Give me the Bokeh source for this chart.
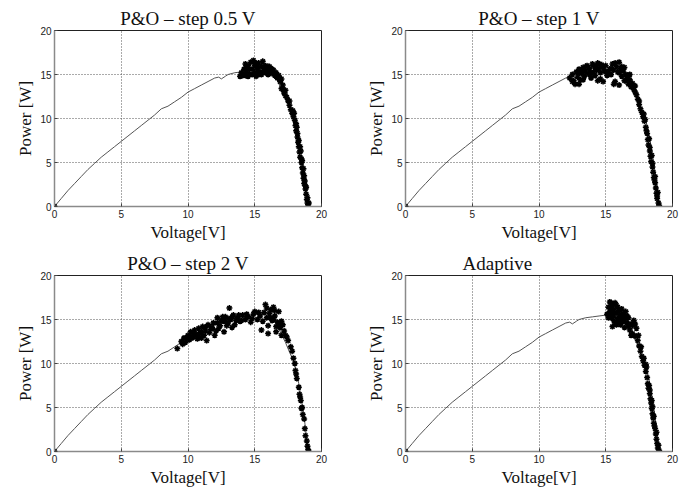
from bokeh.plotting import figure
from bokeh.layouts import column, row
from bokeh.models import Range1d, FixedTicker
from bokeh.embed import file_html
from bokeh.resources import INLINE

# ---- data ----
curve_v = [0, 0.5, 1, 1.5, 2, 2.5, 3, 3.5, 4, 4.5, 5, 5.5, 6, 6.5, 7, 7.5, 8, 8.5, 9, 9.5,
           10, 10.5, 11, 11.5, 12, 12.3, 12.5, 12.8, 13, 13.5, 14, 14.5, 15, 15.5, 16, 16.5,
           17, 17.3, 17.6, 17.9, 18.1, 18.3, 18.5, 18.7, 18.85, 19.0]
curve_p = [0, 0.9, 1.8, 2.6, 3.4, 4.2, 4.9, 5.6, 6.2, 6.8, 7.4, 8.0, 8.6, 9.2, 9.8, 10.4, 11.1, 11.4, 11.9, 12.4,
           13.0, 13.4, 13.8, 14.2, 14.6, 14.7, 14.5, 14.8, 15.0, 15.2, 15.3, 15.4, 15.5, 15.7, 15.6, 15.0,
           13.3, 12.4, 11.3, 10.3, 9.2, 7.7, 5.9, 3.9, 2.0, 0]

po05_v = [13.9, 14.0, 14.1, 14.2, 14.3, 14.4, 14.5, 14.5, 14.6, 14.7, 14.8, 14.9, 15.0, 15.0, 15.1, 15.2, 15.3,
          15.4, 15.5, 15.5, 15.6, 15.7, 15.8, 15.9, 16.0, 16.0, 16.1, 16.2, 16.3, 16.4, 16.5, 16.6, 16.7, 16.8,
          16.9, 17.0, 17.0, 17.1, 17.2, 17.3, 17.4, 17.5, 17.6, 17.7, 17.8, 17.9, 18.0, 18.05, 18.1, 18.2, 18.25,
          18.3, 18.35, 18.4, 18.5, 18.55, 18.6, 18.65, 18.7, 18.8, 18.85, 18.9, 19.0, 18.95, 18.75, 18.5, 18.3,
          18.15, 17.95, 18.45, 18.65, 18.8, 19.05, 14.6, 15.2, 15.8, 14.3, 14.9,
          14.2, 14.4, 14.8, 15.1, 15.3, 15.7, 16.1, 16.3, 16.6, 17.1, 17.3, 17.6, 17.85, 18.1, 18.2, 18.4,
          18.55, 18.7, 18.85, 18.95, 0]
po05_p = [14.8, 15.2, 14.9, 15.6, 16.2, 15.4, 16.0, 14.8, 15.0, 16.4, 15.6, 16.6, 15.2, 16.0, 14.8, 15.8, 16.3,
          15.3, 15.9, 15.0, 16.5, 15.4, 16.0, 15.6, 15.9, 15.0, 15.3, 15.7, 15.1, 15.5, 14.9, 15.2, 14.6, 14.9,
          14.2, 14.5, 13.4, 13.8, 12.9, 13.2, 12.4, 12.0, 11.5, 11.0, 10.6, 10.2, 9.8, 9.2, 8.6, 7.9, 7.3,
          6.8, 6.2, 5.6, 5.0, 4.4, 3.8, 3.2, 2.6, 2.0, 1.4, 0.8, 0.2, 1.0, 2.9, 5.4, 7.5,
          9.0, 10.6, 6.3, 4.3, 2.3, 0.4, 15.6, 15.5, 15.2, 14.9, 16.4,
          15.0, 15.9, 15.0, 16.3, 15.0, 15.9, 15.9, 15.6, 14.8, 13.3, 12.6, 12.0, 10.9, 9.4, 8.3, 6.8,
          5.2, 3.5, 2.2, 0.4, 0]

po1_v = [12.3, 12.5, 12.6, 12.7, 12.8, 12.9, 13.0, 13.0, 13.1, 13.2, 13.3, 13.4, 13.5, 13.6, 13.7, 13.8, 13.9,
         14.0, 14.1, 14.2, 14.3, 14.4, 14.4, 14.5, 14.6, 14.6, 14.7, 14.8, 14.8, 14.9, 15.0, 15.1, 15.2, 15.3,
         15.4, 15.5, 15.6, 15.6, 15.7, 15.8, 15.9, 16.0, 16.0, 16.1, 16.2, 16.3, 16.4, 16.5, 16.6, 16.7, 16.8,
         17.0, 17.1, 17.2, 17.3, 17.4, 17.5, 17.6, 17.7, 17.8, 17.9, 18.0, 18.1, 18.15, 18.2, 18.3, 18.35, 18.4,
         18.5, 18.55, 18.6, 18.7, 18.75, 18.8, 18.85, 18.95, 19.0, 18.7, 18.45, 18.25, 17.95, 18.9,
         13.2, 13.9, 14.3, 16.4, 16.8,
         12.5, 12.9, 13.3, 13.5, 13.8, 14.1, 14.2, 14.5, 15.0, 15.4, 15.7, 16.0, 16.2, 16.5, 16.7, 16.9,
         17.2, 17.5, 17.85, 18.05, 18.3, 18.5, 18.65, 18.85, 0]
po1_p = [14.6, 15.0, 14.3, 13.9, 15.3, 14.7, 15.6, 13.9, 14.4, 15.1, 15.8, 14.8, 15.4, 16.0, 15.1, 15.7, 14.6,
         16.2, 15.3, 15.9, 15.5, 16.3, 14.3, 15.7, 15.2, 14.5, 16.1, 15.8, 14.2, 15.4, 16.0, 14.9, 15.2, 15.6,
         15.0, 16.2, 15.5, 13.9, 14.2, 15.9, 15.3, 16.4, 13.8, 15.7, 14.8, 15.4, 14.3, 15.0, 14.6, 13.9, 14.4,
         14.0, 13.3, 13.7, 12.7, 12.2, 11.6, 11.1, 10.7, 10.2, 9.7, 9.0, 8.3, 7.6, 7.0, 6.3, 5.7, 5.1,
         4.5, 3.9, 3.3, 2.7, 2.1, 1.5, 0.9, 0.4, 0.1, 3.4, 5.8, 7.7, 9.9, 1.6,
         15.3, 15.2, 15.8, 15.8, 15.0,
         14.2, 15.2, 14.4, 15.9, 15.0, 16.0, 14.9, 16.2, 15.3, 15.7, 16.3, 15.2, 15.9, 14.3, 14.9, 13.6,
         13.0, 12.0, 10.5, 8.6, 6.7, 4.9, 3.0, 1.2, 0]

po2_v = [9.2, 9.5, 9.6, 9.7, 9.8, 10.0, 10.1, 10.2, 10.3, 10.4, 10.5, 10.6, 10.7, 10.8, 10.9, 11.0, 11.1,
         11.2, 11.3, 11.4, 11.5, 11.6, 11.7, 11.9, 12.0, 12.1, 12.2, 12.3, 12.4, 12.5, 12.6, 12.7, 12.8, 12.9,
         13.0, 13.1, 13.2, 13.3, 13.4, 13.5, 13.6, 13.7, 13.9, 14.1, 14.3, 14.5, 14.7, 14.9, 15.0, 15.2, 15.4,
         15.5, 15.6, 15.7, 15.8, 15.9, 16.0, 16.0, 16.1, 16.2, 16.3, 16.4, 16.5, 16.6, 16.7, 16.8, 16.9, 17.0,
         17.1, 17.2, 17.3, 17.5, 17.7, 17.8, 17.9, 18.0, 18.05, 18.15, 18.3, 18.35, 18.45, 18.5, 18.6, 18.7,
         18.75, 18.8, 18.95, 19.0, 19.05, 10.4, 11.0, 11.8, 13.0, 16.4, 16.6,
         9.9, 10.3, 10.8, 11.3, 11.8, 12.2, 12.7, 13.3, 13.8, 14.0, 14.4, 14.8, 15.3, 15.9, 16.2, 16.5,
         16.8, 17.0, 17.4, 18.1, 18.4, 18.55, 18.9, 0]
po2_p = [11.7, 12.5, 12.2, 12.9, 12.4, 13.2, 12.7, 13.6, 12.9, 13.0, 13.8, 13.3, 12.8, 14.0, 13.5, 12.9, 14.2,
         13.2, 13.7, 12.6, 14.4, 13.5, 13.9, 14.6, 13.2, 13.7, 15.2, 14.0, 14.3, 14.9, 15.3, 13.6, 15.3, 14.3,
         14.6, 16.3, 15.0, 14.1, 15.5, 14.4, 14.9, 15.2, 14.8, 15.5, 15.0, 15.3, 14.7, 15.6, 15.9, 15.0, 15.4,
         13.8, 14.8, 15.8, 16.7, 15.2, 14.3, 13.4, 15.7, 16.1, 14.9, 16.4, 15.4, 13.6, 14.7, 15.9, 14.1, 13.2,
         14.4, 13.7, 13.2, 12.6, 11.9, 11.4, 10.6, 10.0, 9.2, 8.3, 7.3, 6.5, 5.8, 4.9, 4.2, 3.7,
         2.6, 1.8, 0.6, 0.2, 0.0, 13.4, 13.6, 14.1, 15.1, 15.0, 14.2,
         12.9, 13.5, 13.1, 14.1, 14.0, 14.6, 14.8, 15.3, 15.5, 14.9, 15.6, 15.1, 15.8, 16.3, 15.2, 16.0,
         14.4, 14.8, 13.0, 8.8, 6.2, 5.0, 1.2, 0]

adp_v = [15.1, 15.2, 15.3, 15.3, 15.4, 15.4, 15.5, 15.5, 15.6, 15.6, 15.7, 15.7, 15.8, 15.9, 15.9, 16.0, 16.0,
         16.1, 16.1, 16.2, 16.3, 16.3, 16.4, 16.4, 16.5, 16.6, 16.6, 16.7, 16.8, 16.9, 16.9, 17.0, 17.1, 17.2,
         17.3, 17.4, 17.5, 17.6, 17.7, 17.8, 17.9, 18.0, 18.05, 18.1, 18.15, 18.2, 18.25, 18.3, 18.35, 18.4,
         18.45, 18.5, 18.5, 18.55, 18.6, 18.65, 18.7, 18.75, 18.8, 18.85, 18.9, 19.0,
         15.6, 15.9, 16.2, 15.4, 15.8,
         15.2, 15.4, 15.5, 15.8, 16.0, 16.2, 16.5, 16.7, 17.0, 17.2, 17.45, 17.65, 17.85, 18.0, 18.3, 18.45,
         18.6, 18.8, 18.95, 0]
adp_p = [15.6, 16.4, 15.9, 17.0, 15.2, 16.9, 16.6, 14.2, 16.1, 15.4, 16.9, 14.5, 15.8, 14.9, 16.4, 15.5, 16.0,
         14.4, 15.2, 16.2, 15.7, 14.8, 15.3, 14.1, 15.9, 14.6, 15.4, 15.2, 13.8, 14.5, 13.2, 13.4, 14.9, 13.1,
         14.0, 12.6, 12.0, 11.4, 10.8, 10.3, 9.8, 9.1, 9.6, 8.4, 7.7, 7.2, 7.5, 6.6, 6.0, 5.5,
         4.9, 4.3, 5.1, 3.8, 3.2, 2.9, 2.6, 2.0, 1.4, 0.9, 0.4, 0.1,
         14.9, 15.1, 15.0, 15.6, 14.4,
         15.2, 16.3, 15.7, 16.6, 14.8, 15.5, 15.1, 14.2, 14.3, 14.5, 13.2, 11.9, 10.6, 9.9, 7.0, 5.8,
         4.0, 2.2, 0.7, 0]

titles = ["P&O \u2013 step 0.5 V", "P&O \u2013 step 1 V", "P&O \u2013 step 2 V", "Adaptive"]
ticks = [0, 5, 10, 15, 20]
x_label = "Voltage[V]"
y_label = "Power [W]"


def make_panel(title, sv, sp, width, height, left, top, right, bottom,
               title_align="center", title_offset=0):
    p = figure(width=width, height=height, output_backend="svg", toolbar_location=None,
               x_range=Range1d(0, 20), y_range=Range1d(0, 20),
               min_border_left=left, min_border_top=top, min_border_right=right, min_border_bottom=bottom)
    p.title.text = title
    p.title.text_font = "Liberation Serif"
    p.title.text_font_size = "19px"
    p.title.text_font_style = "normal"
    p.title.align = title_align
    p.title.offset = title_offset
    p.title.standoff = 4
    p.title.text_color = "#111111"
    p.background_fill_color = "white"
    p.border_fill_color = "white"
    p.outline_line_color = "#222222"
    p.outline_line_width = 1

    for ax in (p.xaxis, p.yaxis):
        ax.ticker = FixedTicker(ticks=ticks)
        ax.major_label_text_font = "Liberation Sans"
        ax.major_label_text_font_size = "10px"
        ax.major_label_text_color = "#222222"
        ax.axis_label_text_font = "Liberation Serif"
        ax.axis_label_text_font_size = "17px"
        ax.axis_label_text_font_style = "normal"
        ax.axis_label_text_color = "#111111"
        ax.axis_line_color = "#8a8a8a"
        ax.axis_line_width = 1.5
        ax.major_tick_in = 3
        ax.major_tick_out = 0
        ax.major_tick_line_color = "#444444"
        ax.minor_tick_line_color = None
        ax.major_label_standoff = 3
        ax.axis_label_standoff = 2
    p.xaxis.axis_label = x_label
    p.yaxis.axis_label = y_label

    for g in (p.xgrid, p.ygrid):
        g.ticker = FixedTicker(ticks=[5, 10, 15])
        g.grid_line_color = "#555555"
        g.grid_line_dash = "1 2"
        g.grid_line_width = 1

    p.line(curve_v, curve_p, line_color="#555555", line_width=1)
    p.scatter(sv, sp, marker="asterisk", size=6, line_color="black", line_width=1.5)
    return p


p1 = make_panel(titles[0], po05_v, po05_p, 359, 245, 54, 30, 38, 39)
p2 = make_panel(titles[1], po1_v, po1_p, 328, 245, 46, 30, 15, 39)
p3 = make_panel(titles[2], po2_v, po2_p, 359, 246, 54, 30, 38, 40)
p4 = make_panel(titles[3], adp_v, adp_p, 328, 246, 46, 30, 15, 40, title_align="left", title_offset=57)

layout = column(row(p1, p2), row(p3, p4))

open("out.html", "w").write(file_html(layout, INLINE))
